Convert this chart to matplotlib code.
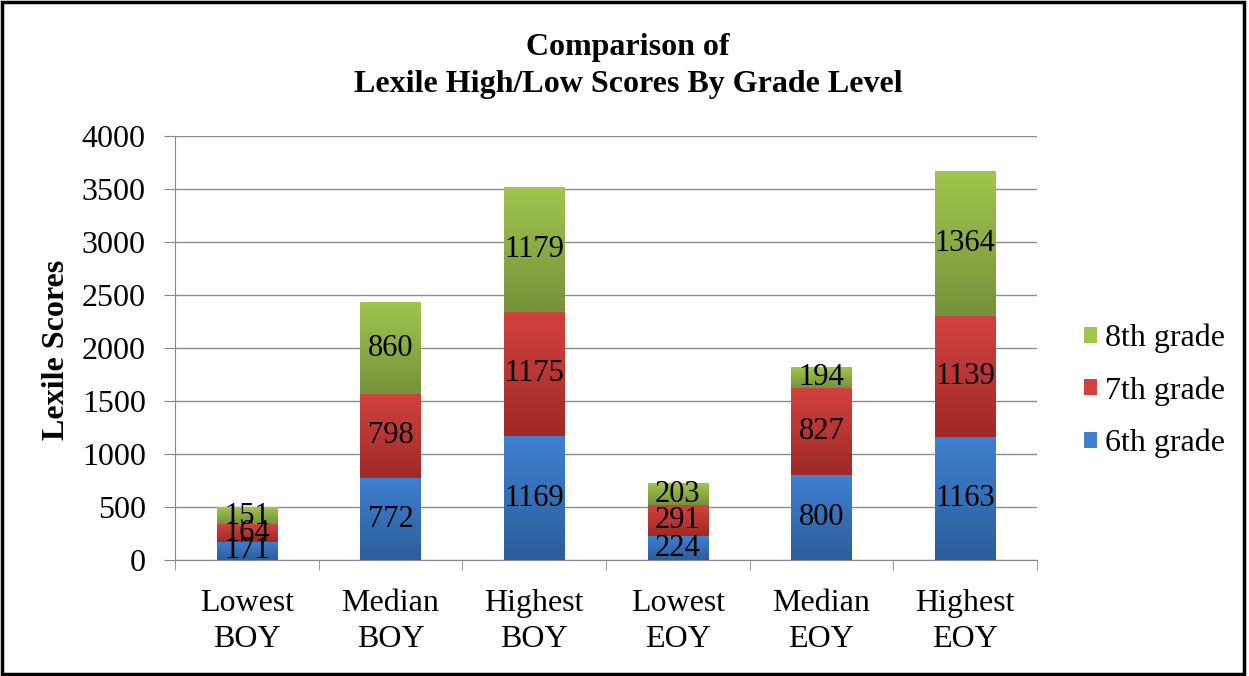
import numpy as np
import matplotlib
matplotlib.use('Agg')
from matplotlib import pyplot
from matplotlib.colors import LinearSegmentedColormap
from matplotlib.patches import Rectangle

categories = ['Lowest\nBOY', 'Median\nBOY', 'Highest\nBOY', 'Lowest\nEOY', 'Median\nEOY', 'Highest\nEOY']
grade6 = [171, 772, 1169, 224, 800, 1163]
grade7 = [164, 798, 1175, 291, 827, 1139]
grade8 = [151, 860, 1179, 203, 194, 1364]
series_names = ['6th grade', '7th grade', '8th grade']

# (bottom colour, top colour) for the fill gradient
colours = [('#2c5d9c', '#3f80d0'),
           ('#9e2a27', '#d2423f'),
           ('#76923a', '#a0c54d')]

pyplot.rcParams['font.family'] = ['Liberation Serif', 'DejaVu Serif']

fig = pyplot.figure(figsize=(12.49, 6.76), dpi=100)
ax = fig.add_axes([175 / 1249, 1 - 560 / 676, (1037 - 175) / 1249, (560 - 136) / 676])

x = np.arange(len(categories))
width = 0.42
bottom = np.zeros(len(categories))
handles = []
for vals, name, (c0, c1) in zip([grade6, grade7, grade8], series_names, colours):
    cmap = LinearSegmentedColormap.from_list(name, [c0, c1])
    bars = ax.bar(x, vals, width, bottom=bottom, color=c1, label=name, zorder=2)
    for b, v, b0 in zip(bars, vals, bottom):
        b.set_facecolor('none')
        b.set_edgecolor('none')
        grad = np.linspace(0, 1, 64).reshape(-1, 1)
        ax.imshow(grad, extent=[b.get_x(), b.get_x() + b.get_width(), b0, b0 + v],
                  origin='lower', aspect='auto', cmap=cmap, zorder=2, interpolation='bilinear')
        ax.text(b.get_x() + b.get_width() / 2, b0 + v / 2, str(v),
                ha='center', va='center', fontsize=22, zorder=3)
    handles.append(Rectangle((0, 0), 1, 1, facecolor=c1, edgecolor='none'))
    bottom = bottom + np.array(vals)

ax.set_xlim(-0.5, len(categories) - 0.5)
ax.set_ylim(0, 4000)
ax.set_yticks(np.arange(0, 4001, 500))
ax.tick_params(axis='y', labelsize=23, length=8, color='#868686', pad=13)
ax.set_xticks(x)
ax.set_xticklabels(categories, fontsize=23, linespacing=1.33)
ax.tick_params(axis='x', length=0, pad=21)
ax.set_xticks(np.arange(-0.5, len(categories)), minor=True)
ax.tick_params(axis='x', which='minor', length=7, color='#868686')
ax.grid(axis='y', color='#8c8c8c', linewidth=1, zorder=0)
for s in ['top', 'right']:
    ax.spines[s].set_visible(False)
for s in ['left', 'bottom']:
    ax.spines[s].set_color('#868686')

fig.text(57 / 1249, 1 - 350 / 676, 'Lexile Scores', rotation=90,
         ha='center', va='center', fontsize=23, fontweight='bold')

fig.text(628 / 1249, 1 - 66 / 676, 'Comparison of\nLexile High/Low Scores By Grade Level',
         ha='center', va='center', fontsize=23, fontweight='bold', linespacing=1.33)

fig.legend(handles[::-1], series_names[::-1], loc='center left',
           bbox_to_anchor=(1084 / 1249, 1 - 391 / 676), frameon=False,
           fontsize=23, handlelength=0.4, handleheight=0.4, handletextpad=0.25,
           labelspacing=0.72, borderpad=0, borderaxespad=0)

fig.patches.append(Rectangle((0.002, 0.003), 0.994, 0.994, transform=fig.transFigure,
                             fill=False, edgecolor='black', linewidth=2.5))

fig.savefig('out.png', dpi=100)
